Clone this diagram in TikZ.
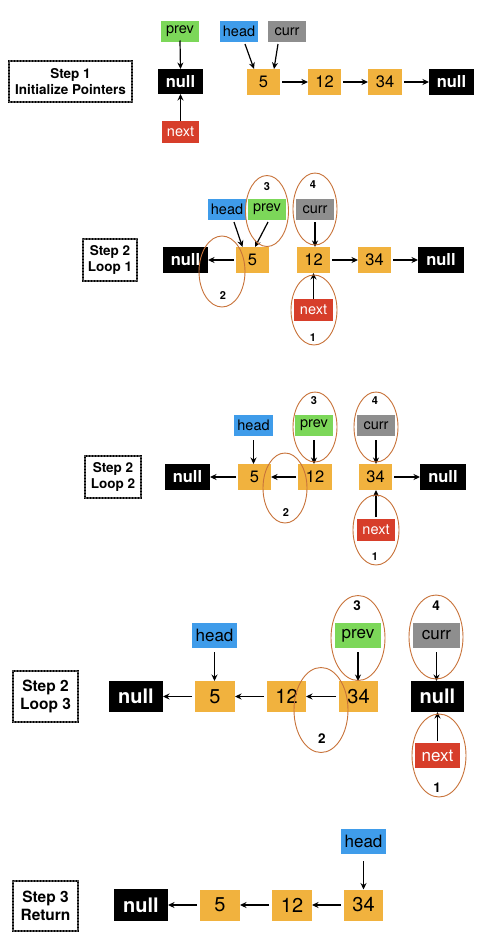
\documentclass[tikz,border=0pt]{standalone}
\usepackage{fontspec}
\setmainfont{TeX Gyre Heros}
\usetikzlibrary{arrows.meta}
\definecolor{cnum}{HTML}{F1B23E}
\definecolor{chead}{HTML}{3F9CEA}
\definecolor{cprev}{HTML}{7CD759}
\definecolor{ccurr}{HTML}{8E8E8E}
\definecolor{cnext}{HTML}{D73E2A}
\definecolor{cring}{HTML}{C8733A}
\tikzset{
  bx/.style={inner sep=0pt, outer sep=0pt, minimum width=#1},
  nullbox/.style={bx=#1, fill=black, text=white, font=\bfseries\fontsize{16.5}{18}\selectfont, minimum height=26pt},
  numbox/.style={bx=#1, fill=cnum, text=black, font=\fontsize{16.5}{18}\selectfont, minimum height=26pt},
  lab/.style={bx=#1, minimum height=21pt, font=\fontsize{14.5}{16}\selectfont},
  headbox/.style={lab=#1, fill=chead},
  prevbox/.style={lab=#1, fill=cprev},
  currbox/.style={lab=#1, fill=ccurr},
  nextbox/.style={lab=#1, fill=cnext, text=white},
  bignull/.style={nullbox=#1, font=\bfseries\fontsize{20}{22}\selectfont, minimum height=31pt},
  bignum/.style={numbox=#1, font=\fontsize{20}{22}\selectfont, minimum height=31pt},
  biglab/.style={minimum height=25pt, font=\fontsize{17}{19}\selectfont},
  stepbox/.style={inner sep=0pt, align=center, font=\bfseries\fontsize{13.5}{16}\selectfont,
    draw=black, line width=1.3pt, postaction={draw=black!70, line width=2pt, densely dotted}},
  bigstep/.style={stepbox, font=\bfseries\fontsize{15.5}{18}\selectfont},
  ptr/.style={-{Stealth[length=6.5pt,width=6pt]}, line width=1.2pt, black},
  ring/.style={draw=cring, line width=0.9pt},
  rnum/.style={font=\bfseries\fontsize{11}{12}\selectfont, inner sep=0pt},
  bigrnum/.style={font=\bfseries\fontsize{13.5}{14}\selectfont, inner sep=0pt},
}
\begin{document}
\begin{tikzpicture}[x=1pt,y=-1pt]
\useasboundingbox[fill=white] (0,0) rectangle (482,951);

% ---------------- Step 1 ----------------
\node[stepbox, minimum width=123pt, minimum height=41pt] (s1) at (70.5,81.5) {Step 1\\Initialize Pointers};
\node[nullbox=45pt, minimum height=25pt] (s1n0) at (180.5,81.5) {null};
\node[prevbox=38pt] (s1prev) at (180,31.5) {prev};
\node[nextbox=37pt, minimum height=22pt] (s1next) at (180.5,132) {next};
\node[headbox=38pt] (s1head) at (239,31.5) {head};
\node[currbox=38pt] (s1curr) at (287,31.5) {curr};
\node[numbox=33pt] (s1a) at (263.5,82) {5};
\node[numbox=33pt] (s1b) at (324.5,82) {12};
\node[numbox=34pt] (s1c) at (385,82) {34};
\node[nullbox=45pt] (s1n1) at (451.5,82) {null};
\draw[ptr] (s1prev.south) ++(0,-1.5) -- (s1n0.north);
\draw[ptr] (s1next.north) -- (s1n0.south);
\draw[ptr] ([xshift=6pt,yshift=-2pt]s1head.south) -- ([xshift=-9.5pt]s1a.north);
\draw[ptr] ([xshift=-9pt,yshift=-2pt]s1curr.south) -- ([xshift=10.5pt]s1a.north);
\draw[ptr] ([xshift=2pt]s1a.east) -- (s1b.west);
\draw[ptr] ([xshift=2pt]s1b.east) -- (s1c.west);
\draw[ptr] ([xshift=2pt]s1c.east) -- (s1n1.west);

% ---------------- Step 2 Loop 1 ----------------
\node[stepbox, minimum width=54pt, minimum height=42pt] (s2) at (110,260) {Step 2\\Loop 1};
\node[nullbox=45pt] (s2n0) at (185.5,260) {null};
\node[numbox=33pt] (s2a) at (252.5,260) {5};
\node[numbox=33pt] (s2b) at (313.5,260) {12};
\node[numbox=33pt] (s2c) at (374.5,260) {34};
\node[nullbox=46pt] (s2n1) at (441,260) {null};
\node[headbox=38pt] (s2head) at (227,209.5) {head};
\node[prevbox=38pt] (s2prev) at (267,209.5) {prev};
\node[currbox=38pt] (s2curr) at (315,209.5) {curr};
\node[nextbox=39pt, minimum height=22pt] (s2next) at (313.5,310) {next};
\draw[ptr] ([xshift=-2pt]s2a.west) -- (s2n0.east);
\draw[ptr] ([xshift=2pt]s2b.east) -- (s2c.west);
\draw[ptr] ([xshift=2pt]s2c.east) -- (s2n1.west);
\draw[ptr] ([xshift=7pt,yshift=-2pt]s2head.south) -- ([xshift=-10pt]s2a.north);
\draw[ptr] ([xshift=1pt,yshift=-2pt]s2prev.south) -- ([xshift=2.5pt]s2a.north);
\draw[ptr] ([yshift=-2pt]s2curr.south) -- (s2curr.south |- s2b.north);
\draw[ptr] (s2next.north) -- (s2next.north |- s2b.south);
\draw[ring] (267,211) ellipse [x radius=21.5, y radius=35.5];
\draw[ring] (315,209) ellipse [x radius=22, y radius=36];
\draw[ring] (222,271.5) ellipse [x radius=23, y radius=35.5];
\draw[ring] (314,310) ellipse [x radius=23, y radius=35];
\node[rnum] (s2r3) at (267,187) {3};
\node[rnum] (s2r4) at (313,185) {4};
\node[rnum] (s2r2) at (223,296) {2};
\node[rnum] (s2r1) at (313,338) {1};

% ---------------- Step 2 Loop 2 ----------------
\node[stepbox, minimum width=56pt, minimum height=42pt] (s3) at (113,477) {Step 2\\Loop 2};
\node[nullbox=45pt] (s3n0) at (187.5,477) {null};
\node[numbox=33pt] (s3a) at (254.5,477) {5};
\node[numbox=34pt] (s3b) at (315,477) {12};
\node[numbox=33pt] (s3c) at (375.5,477) {34};
\node[nullbox=46pt] (s3n1) at (443,477) {null};
\node[headbox=39pt] (s3head) at (253.5,425.5) {head};
\node[prevbox=38pt] (s3prev) at (314,425.5) {prev};
\node[currbox=38pt] (s3curr) at (376,425.5) {curr};
\node[nextbox=38pt, minimum height=22pt] (s3next) at (376,530) {next};
\draw[ptr] ([xshift=-2pt]s3a.west) -- (s3n0.east);
\draw[ptr] ([xshift=-2pt]s3b.west) -- (s3a.east);
\draw[ptr] ([xshift=2pt]s3c.east) -- (s3n1.west);
\draw[ptr] ([yshift=-4pt]s3head.south) -- (s3head.south |- s3a.north);
\draw[ptr] ([yshift=-4pt]s3prev.south) -- (s3prev.south |- s3b.north);
\draw[ptr] ([yshift=-4pt]s3curr.south) -- (s3curr.south |- s3c.north);
\draw[ptr] ([yshift=2pt]s3next.north) -- (s3next.north |- s3c.south);
\draw[ring] (315,427) ellipse [x radius=22, y radius=35];
\draw[ring] (376,427) ellipse [x radius=22, y radius=35];
\draw[ring] (285,488) ellipse [x radius=22, y radius=35];
\draw[ring] (376,530) ellipse [x radius=23, y radius=35];
\node[rnum] (s3r3) at (314,401) {3};
\node[rnum] (s3r4) at (375,401) {4};
\node[rnum] (s3r2) at (286,513) {2};
\node[rnum] (s3r1) at (375,557) {1};

% ---------------- Step 2 Loop 3 ----------------
\node[bigstep, minimum width=65pt, minimum height=51pt] (s4) at (45.5,696.5) {Step 2\\Loop 3};
\node[bignull=54pt] (s4n0) at (136,696.5) {null};
\node[bignum=40pt] (s4a) at (215,696.5) {5};
\node[bignum=39pt] (s4b) at (286.5,696.5) {12};
\node[bignum=39pt] (s4c) at (358.5,696.5) {34};
\node[bignull=53pt] (s4n1) at (437.5,696.5) {null};
\node[headbox=45pt, biglab] (s4head) at (214.5,635.5) {head};
\node[prevbox=46pt, biglab] (s4prev) at (358,635.5) {prev};
\node[currbox=47pt, biglab] (s4curr) at (436.5,635.5) {curr};
\node[nextbox=45pt, biglab] (s4next) at (437.5,755.5) {next};
\draw[ptr] ([xshift=-3pt]s4a.west) -- (s4n0.east);
\draw[ptr] ([xshift=-3pt]s4b.west) -- (s4a.east);
\draw[ptr] ([xshift=-3pt]s4c.west) -- (s4b.east);
\draw[ptr] ([yshift=-4pt]s4head.south) -- (s4head.south |- s4a.north);
\draw[ptr] ([yshift=-4pt]s4prev.south) -- (s4prev.south |- s4c.north);
\draw[ptr] ([yshift=-4pt]s4curr.south) -- (s4curr.south |- s4n1.north);
\draw[ptr] ([yshift=2pt]s4next.north) -- (s4next.north |- s4n1.south);
\draw[ring] (358,638) ellipse [x radius=27, y radius=42.5];
\draw[ring] (436,637) ellipse [x radius=27, y radius=42];
\draw[ring] (321,710) ellipse [x radius=27, y radius=42.5];
\draw[ring] (439,755.5) ellipse [x radius=27, y radius=41.5];
\node[bigrnum] (s4r3) at (357,606) {3};
\node[bigrnum] (s4r4) at (436,606) {4};
\node[bigrnum] (s4r2) at (322,739) {2};
\node[bigrnum] (s4r1) at (437,788) {1};

% ---------------- Step 3 Return ----------------
\node[bigstep, minimum width=65pt, minimum height=50pt] (s5) at (45.5,906) {Step 3\\Return};
\node[bignull=54pt, minimum height=32pt] (s5n0) at (141,905) {null};
\node[bignum=40pt] (s5a) at (220,905) {5};
\node[bignum=40pt] (s5b) at (292,905) {12};
\node[bignum=39pt] (s5c) at (363.5,905) {34};
\node[headbox=45pt, biglab] (s5head) at (363.5,841.5) {head};
\draw[ptr] ([xshift=-3pt]s5a.west) -- (s5n0.east);
\draw[ptr] ([xshift=-3pt]s5b.west) -- (s5a.east);
\draw[ptr] ([xshift=-3pt]s5c.west) -- (s5b.east);
\draw[ptr] ([yshift=-7pt]s5head.south) -- (s5head.south |- s5c.north);
\end{tikzpicture}
\end{document}
